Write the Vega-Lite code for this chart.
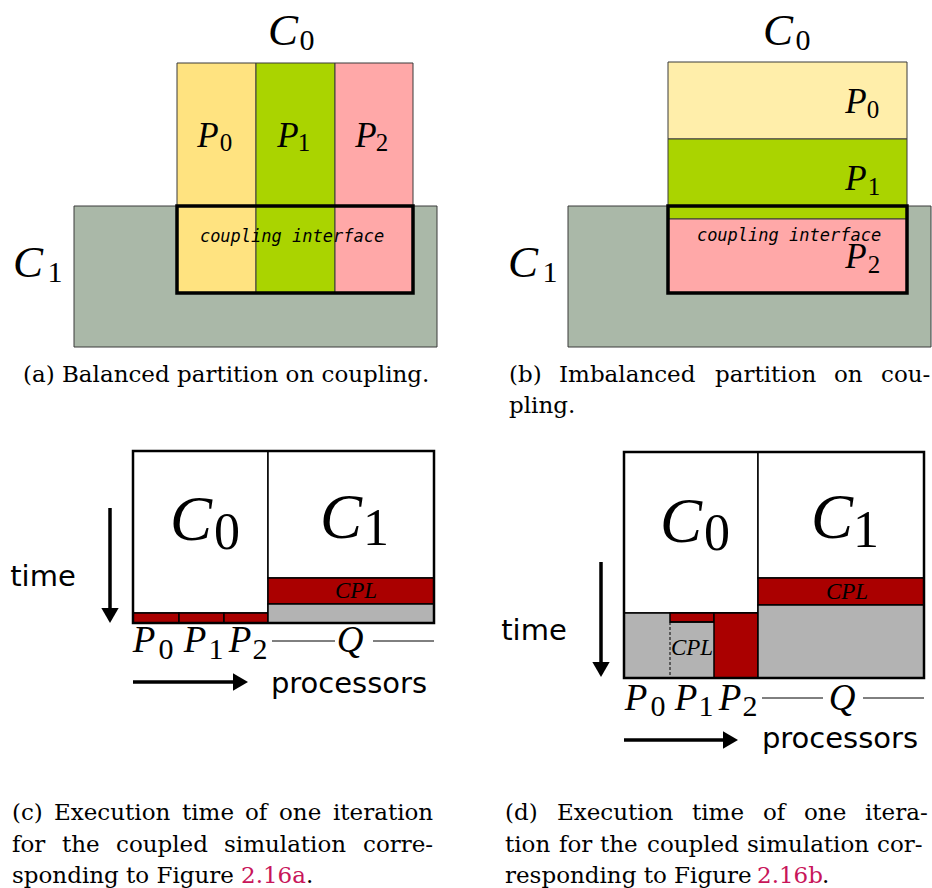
{
  "$schema": "https://vega.github.io/schema/vega-lite/v6.json",
  "width": 932,
  "height": 888,
  "padding": 0,
  "autosize": {"type": "fit", "contains": "padding"},
  "background": "white",
  "config": {"view": {"stroke": null}},
  "datasets": {
    "rects": [
      {"panel": "a", "kind": "C1 domain", "x": 74, "x2": 437, "y": 206, "y2": 347},
      {"panel": "a", "kind": "P0", "x": 177, "x2": 256, "y": 63, "y2": 293},
      {"panel": "a", "kind": "P1", "x": 256, "x2": 335, "y": 63, "y2": 293},
      {"panel": "a", "kind": "P2", "x": 335, "x2": 413, "y": 63, "y2": 293},
      {"panel": "b", "kind": "C1 domain", "x": 568, "x2": 931, "y": 206, "y2": 347},
      {"panel": "b", "kind": "P0 light", "x": 668, "x2": 907, "y": 62, "y2": 139},
      {"panel": "b", "kind": "P1", "x": 668, "x2": 907, "y": 139, "y2": 219},
      {"panel": "b", "kind": "P2", "x": 668, "x2": 907, "y": 219, "y2": 293},
      {"panel": "c", "kind": "compute", "x": 133, "x2": 268, "y": 451, "y2": 613},
      {"panel": "c", "kind": "coupling", "x": 133, "x2": 179, "y": 613, "y2": 623},
      {"panel": "c", "kind": "coupling", "x": 179, "x2": 224, "y": 613, "y2": 623},
      {"panel": "c", "kind": "coupling", "x": 224, "x2": 268, "y": 613, "y2": 623},
      {"panel": "c", "kind": "compute", "x": 268, "x2": 434, "y": 451, "y2": 578},
      {"panel": "c", "kind": "coupling", "x": 268, "x2": 434, "y": 578, "y2": 604},
      {"panel": "c", "kind": "idle", "x": 268, "x2": 434, "y": 604, "y2": 623},
      {"panel": "d", "kind": "compute", "x": 624, "x2": 758, "y": 452, "y2": 613},
      {"panel": "d", "kind": "idle", "x": 624, "x2": 758, "y": 613, "y2": 678},
      {"panel": "d", "kind": "coupling", "x": 670, "x2": 714, "y": 613, "y2": 622},
      {"panel": "d", "kind": "coupling", "x": 714, "x2": 758, "y": 613, "y2": 678},
      {"panel": "d", "kind": "compute", "x": 758, "x2": 924, "y": 452, "y2": 578},
      {"panel": "d", "kind": "coupling", "x": 758, "x2": 924, "y": 578, "y2": 605},
      {"panel": "d", "kind": "idle", "x": 758, "x2": 924, "y": 605, "y2": 678}
    ],
    "outlines": [
      {"kind": "interface", "x": 177, "x2": 413, "y": 206, "y2": 293},
      {"kind": "interface", "x": 668, "x2": 907, "y": 206, "y2": 293},
      {"kind": "frame", "x": 133, "x2": 434, "y": 451, "y2": 623},
      {"kind": "frame", "x": 624, "x2": 924, "y": 452, "y2": 678}
    ],
    "rules": [
      {"part": "shaft", "x": 110, "x2": 110, "y": 508, "y2": 610},
      {"part": "shaft", "x": 133, "x2": 236, "y": 682, "y2": 682},
      {"part": "shaft", "x": 601, "x2": 601, "y": 562, "y2": 664},
      {"part": "shaft", "x": 624, "x2": 727, "y": 740, "y2": 740},
      {"part": "span", "x": 272, "x2": 335, "y": 641, "y2": 641},
      {"part": "span", "x": 373, "x2": 434, "y": 641, "y2": 641},
      {"part": "span", "x": 762, "x2": 823, "y": 698, "y2": 698},
      {"part": "span", "x": 863, "x2": 924, "y": 698, "y2": 698},
      {"part": "boundary", "x": 670, "x2": 714, "y": 622, "y2": 622},
      {"part": "dashed", "x": 670, "x2": 670, "y": 622, "y2": 678}
    ],
    "heads": [
      {"dir": "down", "x": 110, "y": 615.5},
      {"dir": "right", "x": 240.5, "y": 682},
      {"dir": "down", "x": 601, "y": 669.5},
      {"dir": "right", "x": 730.5, "y": 740}
    ],
    "labels": [
      {"role": "C", "text": "C", "x": 283, "y": 45},
      {"role": "Csub", "text": "0", "x": 307, "y": 50},
      {"role": "P", "text": "P", "x": 208, "y": 147},
      {"role": "Psub", "text": "0", "x": 226, "y": 151},
      {"role": "P", "text": "P", "x": 288, "y": 147},
      {"role": "Psub", "text": "1", "x": 304, "y": 151},
      {"role": "P", "text": "P", "x": 366, "y": 147},
      {"role": "Psub", "text": "2", "x": 382, "y": 151},
      {"role": "C", "text": "C", "x": 28, "y": 277},
      {"role": "Csub", "text": "1", "x": 55, "y": 282},
      {"role": "iface", "text": "coupling interface", "x": 292, "y": 242},
      {"role": "C", "text": "C", "x": 778, "y": 45},
      {"role": "Csub", "text": "0", "x": 803, "y": 50},
      {"role": "P", "text": "P", "x": 856, "y": 113},
      {"role": "Psub", "text": "0", "x": 873, "y": 118},
      {"role": "P", "text": "P", "x": 856, "y": 190},
      {"role": "Psub", "text": "1", "x": 874, "y": 195},
      {"role": "P", "text": "P", "x": 856, "y": 268},
      {"role": "Psub", "text": "2", "x": 874, "y": 273},
      {"role": "C", "text": "C", "x": 523, "y": 277},
      {"role": "Csub", "text": "1", "x": 550, "y": 282},
      {"role": "iface", "text": "coupling interface", "x": 789, "y": 241},
      {"role": "TC", "text": "C", "x": 191, "y": 540},
      {"role": "TCsub", "text": "0", "x": 227, "y": 549},
      {"role": "TC", "text": "C", "x": 341, "y": 538},
      {"role": "TCsub", "text": "1", "x": 376, "y": 545},
      {"role": "CPL", "text": "CPL", "x": 356, "y": 598},
      {"role": "axis", "text": "time", "x": 43, "y": 586},
      {"role": "axis", "text": "processors", "x": 349, "y": 693},
      {"role": "TP", "text": "P", "x": 144, "y": 652},
      {"role": "TPsub", "text": "0", "x": 166, "y": 659},
      {"role": "TP", "text": "P", "x": 195, "y": 652},
      {"role": "TPsub", "text": "1", "x": 216, "y": 659},
      {"role": "TP", "text": "P", "x": 240, "y": 652},
      {"role": "TPsub", "text": "2", "x": 260, "y": 659},
      {"role": "TP", "text": "Q", "x": 350, "y": 652},
      {"role": "TC", "text": "C", "x": 681, "y": 542},
      {"role": "TCsub", "text": "0", "x": 717, "y": 550},
      {"role": "TC", "text": "C", "x": 832, "y": 538},
      {"role": "TCsub", "text": "1", "x": 866, "y": 547},
      {"role": "CPL", "text": "CPL", "x": 847, "y": 599},
      {"role": "CPL", "text": "CPL", "x": 692, "y": 655},
      {"role": "axis", "text": "time", "x": 534, "y": 640},
      {"role": "axis", "text": "processors", "x": 840, "y": 748},
      {"role": "TP", "text": "P", "x": 636, "y": 710},
      {"role": "TPsub", "text": "0", "x": 658, "y": 716},
      {"role": "TP", "text": "P", "x": 686, "y": 710},
      {"role": "TPsub", "text": "1", "x": 706, "y": 716},
      {"role": "TP", "text": "P", "x": 730, "y": 710},
      {"role": "TPsub", "text": "2", "x": 750, "y": 716},
      {"role": "TP", "text": "Q", "x": 842, "y": 710}
    ],
    "captions": [
      {"role": "word", "text": "(a) Balanced partition on coupling.", "x": 23, "y": 382},
      {"role": "word", "text": "(b)", "x": 509, "y": 382},
      {"role": "word", "text": "Imbalanced", "x": 559, "y": 382},
      {"role": "word", "text": "partition", "x": 715, "y": 382},
      {"role": "word", "text": "on", "x": 834, "y": 382},
      {"role": "word", "text": "cou-", "x": 881, "y": 382},
      {"role": "word", "text": "pling.", "x": 509, "y": 413},
      {"role": "word", "text": "(c)", "x": 12, "y": 820},
      {"role": "word", "text": "Execution", "x": 54, "y": 820},
      {"role": "word", "text": "time", "x": 182, "y": 820},
      {"role": "word", "text": "of", "x": 245, "y": 820},
      {"role": "word", "text": "one", "x": 279, "y": 820},
      {"role": "word", "text": "iteration", "x": 333, "y": 820},
      {"role": "word", "text": "for", "x": 12, "y": 852},
      {"role": "word", "text": "the", "x": 62, "y": 852},
      {"role": "word", "text": "coupled", "x": 116, "y": 852},
      {"role": "word", "text": "simulation", "x": 224, "y": 852},
      {"role": "word", "text": "corre-", "x": 363, "y": 852},
      {"role": "word", "text": "sponding to Figure", "x": 12, "y": 883},
      {"role": "link", "text": "2.16a", "x": 241, "y": 883},
      {"role": "word", "text": ".", "x": 306, "y": 883},
      {"role": "word", "text": "(d)", "x": 505, "y": 820},
      {"role": "word", "text": "Execution", "x": 557, "y": 820},
      {"role": "word", "text": "time", "x": 692, "y": 820},
      {"role": "word", "text": "of", "x": 763, "y": 820},
      {"role": "word", "text": "one", "x": 804, "y": 820},
      {"role": "word", "text": "itera-", "x": 865, "y": 820},
      {"role": "word", "text": "tion", "x": 505, "y": 852},
      {"role": "word", "text": "for", "x": 559, "y": 852},
      {"role": "word", "text": "the", "x": 600, "y": 852},
      {"role": "word", "text": "coupled", "x": 647, "y": 852},
      {"role": "word", "text": "simulation", "x": 747, "y": 852},
      {"role": "word", "text": "cor-", "x": 877, "y": 852},
      {"role": "word", "text": "responding to Figure", "x": 505, "y": 883},
      {"role": "link", "text": "2.16b", "x": 757, "y": 883},
      {"role": "word", "text": ".", "x": 822, "y": 883}
    ]
  },
  "layer": [
    {
      "data": {"name": "rects"},
      "transform": [{"filter": "datum.panel === 'a' || datum.panel === 'b'"}],
      "mark": {"type": "rect", "stroke": "#3a3a3a", "strokeWidth": 1},
      "encoding": {
        "x": {"field": "x", "type": "quantitative", "scale": {"domain": [0, 932], "nice": false, "zero": false}, "axis": null},
        "x2": {"field": "x2"},
        "y": {"field": "y", "type": "quantitative", "scale": {"domain": [0, 888], "reverse": true, "nice": false, "zero": false}, "axis": null},
        "y2": {"field": "y2"},
        "fill": {"field": "kind", "type": "nominal", "legend": null,
          "scale": {"domain": ["C1 domain", "P0", "P0 light", "P1", "P2", "compute", "coupling", "idle"],
                    "range": ["#AAB8A8", "#FFE380", "#FFEEAA", "#AAD400", "#FFA8A8", "#FFFFFF", "#AA0000", "#B3B3B3"]}}
      }
    },
    {
      "data": {"name": "rects"},
      "transform": [{"filter": "datum.panel === 'c' || datum.panel === 'd'"}],
      "mark": {"type": "rect", "stroke": "#000000", "strokeWidth": 1.5},
      "encoding": {
        "x": {"field": "x", "type": "quantitative", "scale": {"domain": [0, 932], "nice": false, "zero": false}, "axis": null},
        "x2": {"field": "x2"},
        "y": {"field": "y", "type": "quantitative", "scale": {"domain": [0, 888], "reverse": true, "nice": false, "zero": false}, "axis": null},
        "y2": {"field": "y2"},
        "fill": {"field": "kind", "type": "nominal", "legend": null,
          "scale": {"domain": ["C1 domain", "P0", "P0 light", "P1", "P2", "compute", "coupling", "idle"],
                    "range": ["#AAB8A8", "#FFE380", "#FFEEAA", "#AAD400", "#FFA8A8", "#FFFFFF", "#AA0000", "#B3B3B3"]}}
      }
    },
    {
      "data": {"name": "outlines"},
      "transform": [{"filter": "datum.kind === 'interface'"}],
      "mark": {"type": "rect", "filled": false, "stroke": "#000000", "strokeWidth": 3.5},
      "encoding": {
        "x": {"field": "x", "type": "quantitative"},
        "x2": {"field": "x2"},
        "y": {"field": "y", "type": "quantitative"},
        "y2": {"field": "y2"}
      }
    },
    {
      "data": {"name": "outlines"},
      "transform": [{"filter": "datum.kind === 'frame'"}],
      "mark": {"type": "rect", "filled": false, "stroke": "#000000", "strokeWidth": 2.5},
      "encoding": {
        "x": {"field": "x", "type": "quantitative"},
        "x2": {"field": "x2"},
        "y": {"field": "y", "type": "quantitative"},
        "y2": {"field": "y2"}
      }
    },
    {
      "data": {"name": "rules"},
      "transform": [{"filter": "datum.part === 'shaft'"}],
      "mark": {"type": "rule", "stroke": "#000000", "strokeWidth": 3.5},
      "encoding": {
        "x": {"field": "x", "type": "quantitative"},
        "x2": {"field": "x2"},
        "y": {"field": "y", "type": "quantitative"},
        "y2": {"field": "y2"}
      }
    },
    {
      "data": {"name": "rules"},
      "transform": [{"filter": "datum.part === 'span'"}],
      "mark": {"type": "rule", "stroke": "#000000", "strokeWidth": 1},
      "encoding": {
        "x": {"field": "x", "type": "quantitative"},
        "x2": {"field": "x2"},
        "y": {"field": "y", "type": "quantitative"},
        "y2": {"field": "y2"}
      }
    },
    {
      "data": {"name": "rules"},
      "transform": [{"filter": "datum.part === 'boundary'"}],
      "mark": {"type": "rule", "stroke": "#000000", "strokeWidth": 1.5},
      "encoding": {
        "x": {"field": "x", "type": "quantitative"},
        "x2": {"field": "x2"},
        "y": {"field": "y", "type": "quantitative"},
        "y2": {"field": "y2"}
      }
    },
    {
      "data": {"name": "rules"},
      "transform": [{"filter": "datum.part === 'dashed'"}],
      "mark": {"type": "rule", "stroke": "#000000", "strokeWidth": 1, "strokeDash": [3, 2]},
      "encoding": {
        "x": {"field": "x", "type": "quantitative"},
        "x2": {"field": "x2"},
        "y": {"field": "y", "type": "quantitative"},
        "y2": {"field": "y2"}
      }
    },
    {
      "data": {"name": "heads"},
      "mark": {"type": "point", "filled": true, "color": "#000000", "opacity": 1, "size": 300, "strokeWidth": 0},
      "encoding": {
        "x": {"field": "x", "type": "quantitative"},
        "y": {"field": "y", "type": "quantitative"},
        "shape": {"field": "dir", "type": "nominal", "legend": null, "scale": {"domain": ["down", "right"], "range": ["triangle-down", "triangle-right"]}}
      }
    },
    {
      "data": {"name": "labels"},
      "transform": [{"filter": "datum.role === 'C'"}],
      "mark": {"type": "text", "font": "Liberation Serif", "fontStyle": "italic", "fontSize": 45, "align": "center", "baseline": "alphabetic", "color": "#000000"},
      "encoding": {"x": {"field": "x", "type": "quantitative"}, "y": {"field": "y", "type": "quantitative"}, "text": {"field": "text"}}
    },
    {
      "data": {"name": "labels"},
      "transform": [{"filter": "datum.role === 'Csub'"}],
      "mark": {"type": "text", "font": "Liberation Serif", "fontSize": 30, "align": "center", "baseline": "alphabetic", "color": "#000000"},
      "encoding": {"x": {"field": "x", "type": "quantitative"}, "y": {"field": "y", "type": "quantitative"}, "text": {"field": "text"}}
    },
    {
      "data": {"name": "labels"},
      "transform": [{"filter": "datum.role === 'P'"}],
      "mark": {"type": "text", "font": "Liberation Serif", "fontStyle": "italic", "fontSize": 35, "align": "center", "baseline": "alphabetic", "color": "#000000"},
      "encoding": {"x": {"field": "x", "type": "quantitative"}, "y": {"field": "y", "type": "quantitative"}, "text": {"field": "text"}}
    },
    {
      "data": {"name": "labels"},
      "transform": [{"filter": "datum.role === 'Psub'"}],
      "mark": {"type": "text", "font": "Liberation Serif", "fontSize": 25, "align": "center", "baseline": "alphabetic", "color": "#000000"},
      "encoding": {"x": {"field": "x", "type": "quantitative"}, "y": {"field": "y", "type": "quantitative"}, "text": {"field": "text"}}
    },
    {
      "data": {"name": "labels"},
      "transform": [{"filter": "datum.role === 'TC'"}],
      "mark": {"type": "text", "font": "Liberation Serif", "fontStyle": "italic", "fontSize": 63, "align": "center", "baseline": "alphabetic", "color": "#000000"},
      "encoding": {"x": {"field": "x", "type": "quantitative"}, "y": {"field": "y", "type": "quantitative"}, "text": {"field": "text"}}
    },
    {
      "data": {"name": "labels"},
      "transform": [{"filter": "datum.role === 'TCsub'"}],
      "mark": {"type": "text", "font": "Liberation Serif", "fontSize": 52, "align": "center", "baseline": "alphabetic", "color": "#000000"},
      "encoding": {"x": {"field": "x", "type": "quantitative"}, "y": {"field": "y", "type": "quantitative"}, "text": {"field": "text"}}
    },
    {
      "data": {"name": "labels"},
      "transform": [{"filter": "datum.role === 'TP'"}],
      "mark": {"type": "text", "font": "Liberation Serif", "fontStyle": "italic", "fontSize": 37, "align": "center", "baseline": "alphabetic", "color": "#000000"},
      "encoding": {"x": {"field": "x", "type": "quantitative"}, "y": {"field": "y", "type": "quantitative"}, "text": {"field": "text"}}
    },
    {
      "data": {"name": "labels"},
      "transform": [{"filter": "datum.role === 'TPsub'"}],
      "mark": {"type": "text", "font": "Liberation Serif", "fontSize": 30, "align": "center", "baseline": "alphabetic", "color": "#000000"},
      "encoding": {"x": {"field": "x", "type": "quantitative"}, "y": {"field": "y", "type": "quantitative"}, "text": {"field": "text"}}
    },
    {
      "data": {"name": "labels"},
      "transform": [{"filter": "datum.role === 'CPL'"}],
      "mark": {"type": "text", "font": "Liberation Serif", "fontStyle": "italic", "fontSize": 23, "align": "center", "baseline": "alphabetic", "color": "#000000"},
      "encoding": {"x": {"field": "x", "type": "quantitative"}, "y": {"field": "y", "type": "quantitative"}, "text": {"field": "text"}}
    },
    {
      "data": {"name": "labels"},
      "transform": [{"filter": "datum.role === 'iface'"}],
      "mark": {"type": "text", "font": "DejaVu Sans Mono", "fontStyle": "italic", "fontSize": 17, "align": "center", "baseline": "alphabetic", "color": "#000000"},
      "encoding": {"x": {"field": "x", "type": "quantitative"}, "y": {"field": "y", "type": "quantitative"}, "text": {"field": "text"}}
    },
    {
      "data": {"name": "labels"},
      "transform": [{"filter": "datum.role === 'axis'"}],
      "mark": {"type": "text", "font": "DejaVu Sans", "fontSize": 29, "align": "center", "baseline": "alphabetic", "color": "#000000"},
      "encoding": {"x": {"field": "x", "type": "quantitative"}, "y": {"field": "y", "type": "quantitative"}, "text": {"field": "text"}}
    },
    {
      "data": {"name": "captions"},
      "mark": {"type": "text", "font": "DejaVu Serif", "fontSize": 23, "align": "left", "baseline": "alphabetic"},
      "encoding": {
        "x": {"field": "x", "type": "quantitative"},
        "y": {"field": "y", "type": "quantitative"},
        "text": {"field": "text"},
        "color": {"field": "role", "type": "nominal", "legend": null, "scale": {"domain": ["word", "link"], "range": ["#000000", "#C8155A"]}}
      }
    }
  ]
}
